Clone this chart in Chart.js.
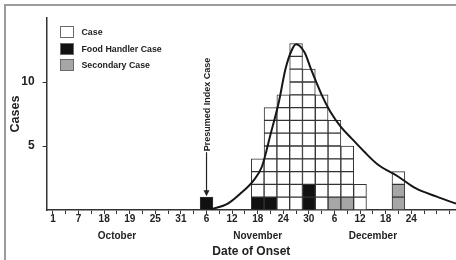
<!DOCTYPE html>
<html>
<head>
<meta charset="utf-8">
<script src="https://cdn.jsdelivr.net/npm/chart.js@4.4.1/dist/chart.umd.min.js"></script>
<style>
html,body{margin:0;padding:0;background:#fff;}
#wrap{position:relative;width:456px;height:260px;overflow:hidden;background:#fff;}
#frame{position:absolute;left:4px;top:4px;width:470px;height:280px;border-top:2px solid #9c9c9c;border-left:2px solid #9c9c9c;}
#chart{position:absolute;left:0;top:0;}
#legend{position:absolute;left:60px;top:24px;font:bold 8.8px "Liberation Sans",Arial,sans-serif;color:#222;}
#legend .item{display:flex;align-items:center;height:16.5px;}
#legend .sw{width:14px;height:12px;box-sizing:border-box;border:1px solid #6a6a6a;margin-right:7.5px;}
</style>
</head>
<body>
<div id="wrap">
  <div id="frame"></div>
  <canvas id="chart" width="456" height="260"></canvas>
  <div id="legend"></div>
</div>
<script>
// ---- categories: 3-day intervals starting Oct 1 ----
const categories = ['Oct 1','Oct 4','Oct 7','Oct 10','Oct 13','Oct 16','Oct 19','Oct 22','Oct 25','Oct 28','Oct 31',
  'Nov 3','Nov 6','Nov 9','Nov 12','Nov 15','Nov 18','Nov 21','Nov 24','Nov 27','Nov 30',
  'Dec 3','Dec 6','Dec 9','Dec 12','Dec 15','Dec 18','Dec 21','Dec 24','Dec 27','Dec 30','Jan 2'];

// ---- tick labels ----
const dayTickLabels = ['1','','7','','18','','19','','25','','31','','6','','12','','18','','24','','30','','6','','12','','18','','24','','',''];
const monthNames = ['October','November','December'];
const monthLabelAt = ['Oct 16','Nov 18','Dec 15'];
const yTickValues = [5, 10];

// ---- series (number of cases per interval) ----
const seriesNames = ['Case','Food Handler Case','Secondary Case'];
const caseCounts        = [0,0,0,0,0,0,0,0,0,0, 0,0,0,0,0,0,3,7,9,13, 9,9,6,4,2,0,0,1,0,0, 0,0];
const foodHandlerCounts = [0,0,0,0,0,0,0,0,0,0, 0,0,1,0,0,0,1,1,0,0, 2,0,0,0,0,0,0,0,0,0, 0,0];
const secondaryCounts   = [0,0,0,0,0,0,0,0,0,0, 0,0,0,0,0,0,0,0,0,0, 0,0,1,1,0,0,0,2,0,0, 0,0];

// ---- fitted epidemic curve (days since Oct 1, cases) ----
const curveDays  = [37, 41, 44, 47, 49, 51, 53, 54.5, 56, 57, 59, 60.5, 63, 65, 67.5, 70, 73, 76, 81, 85, 90, 94.5];
const curveCases = [0.05, 0.5, 1.3, 2.3, 3.4, 5.9, 8.5, 11.0, 12.5, 12.95, 12.3, 11.0, 9.0, 7.7, 6.5, 5.6, 4.55, 3.6, 2.6, 1.7, 1.04, 0.5];

const indexCaseLabel = 'Presumed Index Case';
const indexCaseCategory = 'Nov 6';

// ---- styles ----
const FONT = '"Liberation Sans", Arial, sans-serif';
const seriesFill = ['#ffffff', '#111111', '#a6a6a6'];
const gridStroke = '#333333';

// each case is drawn as its own unit box
function unitDatasets(counts, fill) {
  const maxC = Math.max(...counts);
  const out = [];
  for (let k = 0; k < maxC; k++) {
    out.push({
      type: 'bar',
      data: counts.map(v => v > k ? 1 : null),
      backgroundColor: fill,
      borderColor: gridStroke,
      borderWidth: 1,
      borderSkipped: false,
      barPercentage: 1,
      categoryPercentage: 1,
      grouped: false,
      stack: 'cases'
    });
  }
  return out;
}

const datasets = [
  ...unitDatasets(foodHandlerCounts, seriesFill[1]),
  ...unitDatasets(secondaryCounts, seriesFill[2]),
  ...unitDatasets(caseCounts, seriesFill[0]),
  {
    type: 'line',
    xAxisID: 'x2',
    data: curveDays.map((d, i) => ({x: d, y: curveCases[i]})),
    borderColor: '#161616',
    borderWidth: 2,
    pointRadius: 0,
    fill: false,
    cubicInterpolationMode: 'monotone',
    order: -1
  }
];

const indexCasePlugin = {
  id: 'indexCase',
  afterDatasetsDraw(chart) {
    const {ctx, scales: {x, y}} = chart;
    const px = x.getPixelForValue(categories.indexOf(indexCaseCategory));
    const tip = y.getPixelForValue(1) - 1;
    const lineTop = tip - 44;
    ctx.save();
    ctx.strokeStyle = '#222';
    ctx.fillStyle = '#222';
    ctx.lineWidth = 1.2;
    ctx.beginPath();
    ctx.moveTo(px, lineTop);
    ctx.lineTo(px, tip - 5);
    ctx.stroke();
    ctx.beginPath();
    ctx.moveTo(px - 3, tip - 6);
    ctx.lineTo(px + 3, tip - 6);
    ctx.lineTo(px, tip);
    ctx.closePath();
    ctx.fill();
    ctx.translate(px, lineTop - 1);
    ctx.rotate(-Math.PI / 2);
    ctx.font = 'bold 9px ' + FONT;
    ctx.textAlign = 'left';
    ctx.textBaseline = 'middle';
    ctx.fillText(indexCaseLabel, 0, 0.5);
    ctx.restore();
  }
};

new Chart(document.getElementById('chart'), {
  type: 'bar',
  data: {labels: categories, datasets},
  options: {
    responsive: false,
    animation: false,
    devicePixelRatio: 1,
    layout: {padding: {top: 18, right: 0, left: 0, bottom: 0}},
    plugins: {legend: {display: false}, tooltip: {enabled: false}},
    scales: {
      x: {
        type: 'category',
        stacked: true,
        offset: true,
        grid: {display: true, drawOnChartArea: false, offset: false, tickLength: 4, color: gridStroke, lineWidth: 1},
        border: {display: true, color: gridStroke, width: 1.5},
        ticks: {
          autoSkip: false, maxRotation: 0, minRotation: 0, padding: -3, color: '#222',
          font: {family: FONT, size: 10, weight: 'bold', lineHeight: 1.7},
          callback: (v, i) => {
            const m = monthLabelAt.indexOf(categories[i]);
            return m >= 0 ? [dayTickLabels[i], monthNames[m]] : dayTickLabels[i];
          }
        },
        title: {display: true, text: 'Date of Onset', color: '#222',
          font: {family: FONT, size: 12, weight: 'bold'}, padding: {top: 0, bottom: 1}},
        afterFit(s) { s.height = 50; }
      },
      x2: {type: 'linear', display: false, offset: false, grid: {offset: false}, min: -1.5, max: 94.5},
      y: {
        stacked: true,
        min: 0, max: 15,
        afterBuildTicks(s) { s.ticks = yTickValues.map(v => ({value: v})); },
        grid: {display: true, drawOnChartArea: false, tickLength: 4, color: gridStroke},
        border: {display: true, color: gridStroke, width: 1.5},
        ticks: {padding: 8, color: '#222', font: {family: FONT, size: 12, weight: 'bold'}},
        title: {display: true, text: 'Cases', color: '#222',
          font: {family: FONT, size: 12.5, weight: 'bold'}, padding: {top: 8, bottom: 0}},
        afterFit(s) { s.width = 46.6; }
      }
    }
  },
  plugins: [indexCasePlugin]
});

// HTML legend
const legend = document.getElementById('legend');
seriesNames.forEach((name, i) => {
  const item = document.createElement('div');
  item.className = 'item';
  const sw = document.createElement('span');
  sw.className = 'sw';
  sw.style.background = seriesFill[i];
  const t = document.createElement('span');
  t.textContent = name;
  item.appendChild(sw);
  item.appendChild(t);
  legend.appendChild(item);
});
</script>
</body>
</html>
